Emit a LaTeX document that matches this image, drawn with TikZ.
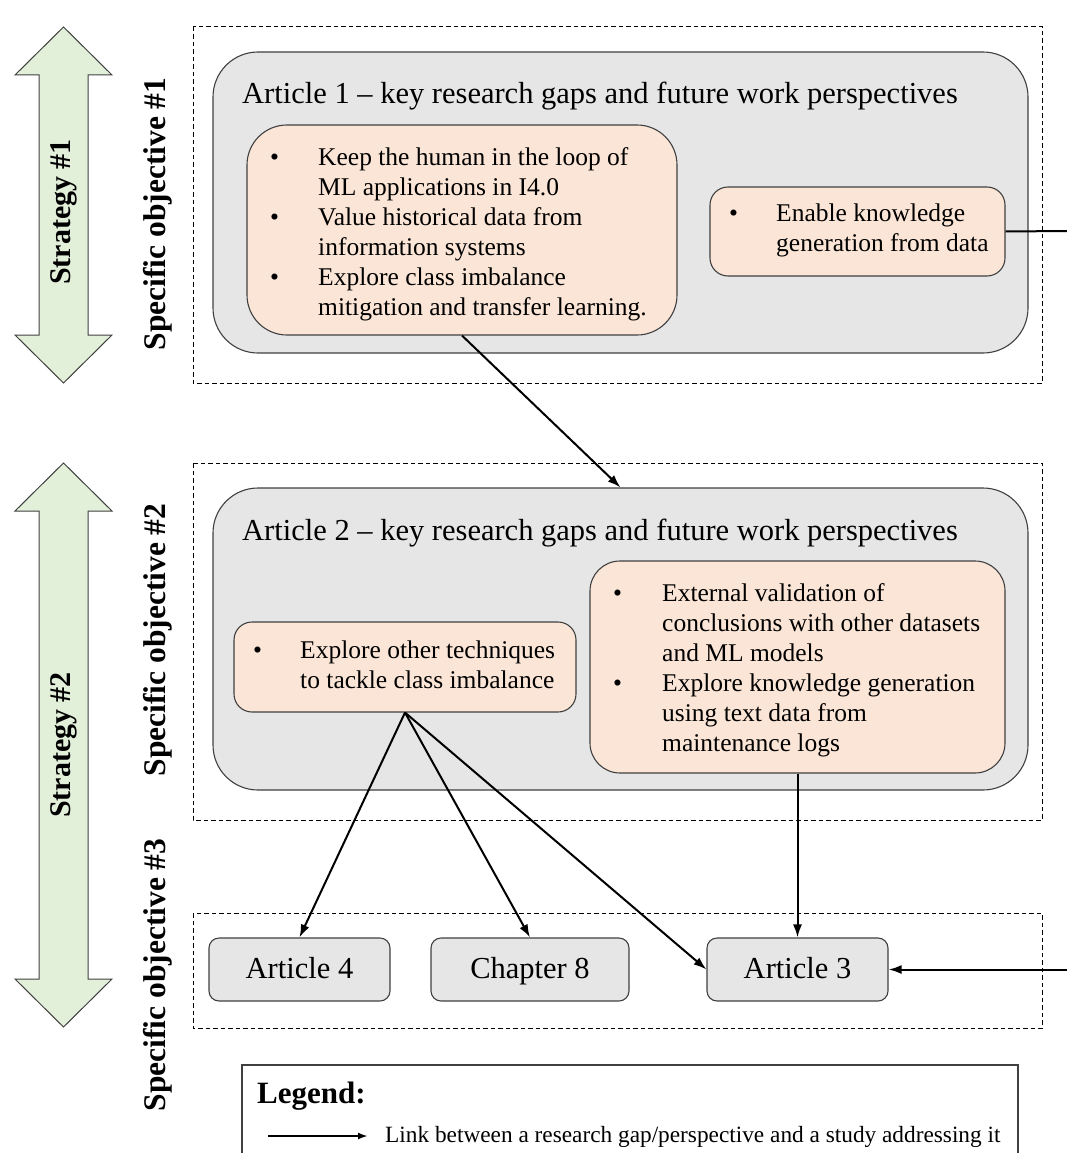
\documentclass[tikz,border=0pt]{standalone}
\usepackage{fontspec}
\setmainfont{Liberation Serif}
\usetikzlibrary{arrows.meta}
\definecolor{boxgray}{HTML}{E6E6E6}
\definecolor{boxorange}{HTML}{FBE5D6}
\definecolor{stratgreen}{HTML}{E2EFD9}
\definecolor{edgegray}{HTML}{404040}
\newcommand{\bfs}{\fontsize{25.5}{30}\selectfont}
\tikzset{
  dbox/.style={draw=black, line width=1pt, dash pattern=on 4.5pt off 3pt},
  graybox/.style={draw=edgegray, fill=boxgray, line width=1.1pt, rounded corners=45pt},
  obox/.style={draw=edgegray, fill=boxorange, line width=1.1pt, rounded corners=#1},
  obox/.default=18pt,
  arts/.style={draw=edgegray, fill=boxgray, line width=1.1pt, rounded corners=10pt, minimum width=181pt, minimum height=63pt, font=\fontsize{30.5}{30}\selectfont, text height=21.5pt, text depth=4.5pt, inner sep=0pt},
  link/.style={line width=2pt, -{Latex[length=13pt,width=9pt]}},
  strat/.style={draw=edgegray, fill=stratgreen, line width=1pt},
  rotlabel/.style={rotate=90, font=\bfseries\fontsize{31.5}{30}\selectfont, inner sep=0pt},
  titletext/.style={anchor=base west, font=\fontsize{30.5}{30}\selectfont, inner sep=0pt},
  btext/.style={anchor=north west, inner sep=0pt, align=left, font=\bfs},
}
\begin{document}
\begin{tikzpicture}[x=1pt, y=-1pt]
\useasboundingbox (0,0) rectangle (1067,1153);

% strategy arrows
\path[strat] (63.5,27) -- (112,75) -- (88,75) -- (88,335) -- (112,335) -- (63.5,383) -- (15,335) -- (39,335) -- (39,75) -- (15,75) -- cycle;
\node[rotlabel, font=\bfseries\fontsize{30}{30}\selectfont] (s1) at (63.5,212) {Strategy \#1};
\path[strat] (63.5,463) -- (112,511) -- (88,511) -- (88,979) -- (112,979) -- (63.5,1027) -- (15,979) -- (39,979) -- (39,511) -- (15,511) -- cycle;
\node[rotlabel, font=\bfseries\fontsize{30}{30}\selectfont] (s2) at (63.5,745) {Strategy \#2};

% specific objectives
\node[rotlabel] (o1) at (158,214) {Specific objective \#1};
\node[rotlabel] (o2) at (158,640) {Specific objective \#2};
\node[rotlabel] (o3) at (158,975) {Specific objective \#3};

% dashed frames
\draw[dbox] (193,27) rectangle (1042,383);
\draw[dbox] (193,463) rectangle (1042,820);
\draw[dbox] (193,913) rectangle (1042,1028);

% article 1
\node[graybox, minimum width=815pt, minimum height=301pt, inner sep=0pt] (a1) at (620.5,202.5) {};
\node[titletext] (t1) at (242,104) {Article 1 -- key research gaps and future work perspectives};
\node[obox=40pt, minimum width=430pt, minimum height=210pt, inner sep=0pt] (g1) at (462,230) {};
\node[btext] (g1t) at (270,144) {\begin{tabular}{@{}l@{}}
\makebox[48pt][l]{\textbullet}Keep the human in the loop of\\
\hspace{48pt}ML applications in I4.0\\
\makebox[48pt][l]{\textbullet}Value historical data from\\
\hspace{48pt}information systems\\
\makebox[48pt][l]{\textbullet}Explore class imbalance\\
\hspace{48pt}mitigation and transfer learning.
\end{tabular}};
\node[obox, minimum width=295pt, minimum height=89pt, inner sep=0pt] (g2) at (857.5,231.5) {};
\node[btext] (g2t) at (729,200) {\begin{tabular}{@{}l@{}}
\makebox[47pt][l]{\textbullet}Enable knowledge\\
\hspace{47pt}generation from data
\end{tabular}};

% article 2
\node[graybox, minimum width=815pt, minimum height=302pt, inner sep=0pt] (a2) at (620.5,639) {};
\node[titletext] (t2) at (242,540) {Article 2 -- key research gaps and future work perspectives};
\node[obox, minimum width=342pt, minimum height=90pt, inner sep=0pt] (h1) at (405,667) {};
\node[btext] (h1t) at (253,637) {\begin{tabular}{@{}l@{}}
\makebox[47pt][l]{\textbullet}Explore other techniques\\
\hspace{47pt}to tackle class imbalance
\end{tabular}};
\node[obox=30pt, minimum width=415pt, minimum height=212pt, inner sep=0pt] (h2) at (797.5,667) {};
\node[btext] (h2t) at (613,580) {\begin{tabular}{@{}l@{}}
\makebox[49pt][l]{\textbullet}External validation of\\
\hspace{49pt}conclusions with other datasets\\
\hspace{49pt}and ML models\\
\makebox[49pt][l]{\textbullet}Explore knowledge generation\\
\hspace{49pt}using text data from\\
\hspace{49pt}maintenance logs
\end{tabular}};

% bottom studies
\node[arts] (a4) at (299.5,969.5) {Article 4};
\node[arts, minimum width=198pt] (c8) at (530,969.5) {Chapter 8};
\node[arts] (a3) at (797.5,969.5) {Article 3};

% links
\coordinate (e1) at (1067,231);
\coordinate (e2) at (1067,969.5);
\draw[line width=2pt] (g2.east) -- (e1);
\draw[link] (e2) -- (a3.east);
\draw[link] (g1.south) -- (a2.north);
\draw[link] (h1.south) -- (a4.north);
\draw[link] (h1.south) -- (c8.north);
\draw[link] (h1.south) -- (a3.west);
\draw[link] (h2.south) -- (a3.north);

% legend
\draw[draw=edgegray, line width=1.2pt] (242,1160) -- (242,1065) -- (1018,1065) -- (1018,1160);
\node[anchor=base west, inner sep=0pt, font=\bfseries\fontsize{31}{30}\selectfont] (lg) at (257,1103) {Legend:};
\coordinate (l1) at (268,1136);
\coordinate (l2) at (368,1136);
\draw[line width=2pt, -{Latex[length=10pt,width=7pt]}] (l1) -- (l2);
\node[anchor=base west, inner sep=0pt, font=\fontsize{23.3}{24}\selectfont] (lt) at (385,1142) {Link between a research gap/perspective and a study addressing it};
\end{tikzpicture}
\end{document}
